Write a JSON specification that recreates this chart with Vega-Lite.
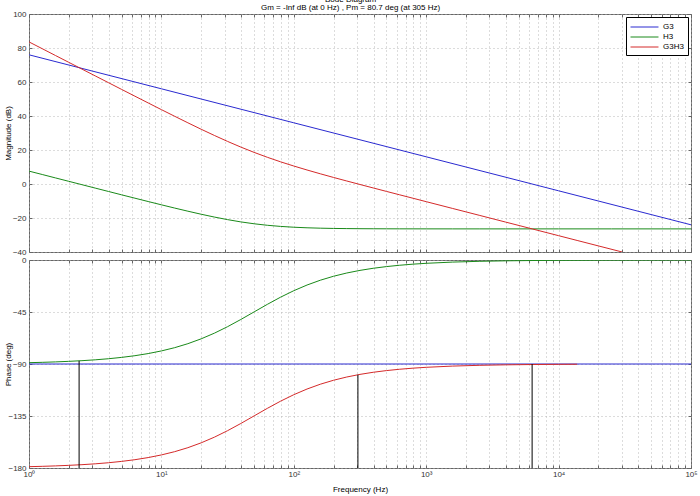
{
  "$schema": "https://vega.github.io/schema/vega-lite/v6.json",
  "background": "white",
  "padding": {"left": 3, "top": -5, "right": 8, "bottom": 0},
  "bounds": "flush",
  "title": {
    "text": ["Bode Diagram", "Gm = -Inf dB (at 0 Hz) ,  Pm = 80.7 deg (at 305 Hz)"],
    "font": "Liberation Sans", "fontSize": 8, "fontWeight": "normal", "lineHeight": 8,
    "offset": -2, "anchor": "middle", "color": "#000"
  },
  "spacing": 8,
  "config": {
    "view": {"stroke": "#666", "strokeWidth": 1},
    "axis": {
      "labelFont": "Liberation Sans", "labelFontSize": 8, "labelColor": "#333",
      "titleFont": "Liberation Sans", "titleFontSize": 8, "titleFontWeight": "normal", "titleColor": "#000",
      "gridColor": "#b0b0b0", "gridDash": [1, 3], "gridWidth": 0.9,
      "domain": false, "tickColor": "#666", "tickSize": -3, "labelPadding": 6
    },
    "legend": {
      "labelFont": "Liberation Sans", "labelFontSize": 8, "labelColor": "#000"
    }
  },
  "datasets": {
    "curves": [
      {"f": 1, "s": "G3", "m": 76, "p": -90},
      {"f": 10, "s": "G3", "m": 56, "p": -90},
      {"f": 100, "s": "G3", "m": 36, "p": -90},
      {"f": 1000, "s": "G3", "m": 16, "p": -90},
      {"f": 10000, "s": "G3", "m": -4, "p": -90},
      {"f": 100000, "s": "G3", "m": -24, "p": -90},

      {"f": 1, "s": "H3", "m": 7.58, "p": -88.85},
      {"f": 1.259, "s": "H3", "m": 5.58, "p": -88.56},
      {"f": 1.585, "s": "H3", "m": 3.58, "p": -88.18},
      {"f": 1.995, "s": "H3", "m": 1.59, "p": -87.71},
      {"f": 2.512, "s": "H3", "m": -0.41, "p": -87.12},
      {"f": 3.162, "s": "H3", "m": -2.40, "p": -86.38},
      {"f": 3.981, "s": "H3", "m": -4.39, "p": -85.45},
      {"f": 5.012, "s": "H3", "m": -6.38, "p": -84.28},
      {"f": 6.31, "s": "H3", "m": -8.35, "p": -82.81},
      {"f": 7.943, "s": "H3", "m": -10.31, "p": -80.97},
      {"f": 10, "s": "H3", "m": -12.25, "p": -78.69},
      {"f": 12.59, "s": "H3", "m": -14.15, "p": -75.87},
      {"f": 15.85, "s": "H3", "m": -16.00, "p": -72.41},
      {"f": 19.95, "s": "H3", "m": -17.78, "p": -68.24},
      {"f": 25.12, "s": "H3", "m": -19.44, "p": -63.33},
      {"f": 31.62, "s": "H3", "m": -20.96, "p": -57.69},
      {"f": 39.81, "s": "H3", "m": -22.29, "p": -51.47},
      {"f": 50.12, "s": "H3", "m": -23.40, "p": -44.93},
      {"f": 63.1, "s": "H3", "m": -24.28, "p": -38.39},
      {"f": 79.43, "s": "H3", "m": -24.95, "p": -32.18},
      {"f": 100, "s": "H3", "m": -25.43, "p": -26.57},
      {"f": 125.9, "s": "H3", "m": -25.76, "p": -21.66},
      {"f": 158.5, "s": "H3", "m": -25.99, "p": -17.51},
      {"f": 199.5, "s": "H3", "m": -26.14, "p": -14.07},
      {"f": 251.2, "s": "H3", "m": -26.23, "p": -11.26},
      {"f": 316.2, "s": "H3", "m": -26.29, "p": -8.98},
      {"f": 398.1, "s": "H3", "m": -26.33, "p": -7.16},
      {"f": 501.2, "s": "H3", "m": -26.36, "p": -5.70},
      {"f": 631, "s": "H3", "m": -26.37, "p": -4.53},
      {"f": 794.3, "s": "H3", "m": -26.38, "p": -3.60},
      {"f": 1000, "s": "H3", "m": -26.39, "p": -2.86},
      {"f": 1585, "s": "H3", "m": -26.40, "p": -1.81},
      {"f": 2512, "s": "H3", "m": -26.40, "p": -1.14},
      {"f": 3981, "s": "H3", "m": -26.40, "p": -0.72},
      {"f": 6310, "s": "H3", "m": -26.40, "p": -0.45},
      {"f": 10000, "s": "H3", "m": -26.40, "p": -0.29},
      {"f": 25119, "s": "H3", "m": -26.40, "p": -0.11},
      {"f": 100000, "s": "H3", "m": -26.40, "p": -0.03},

      {"f": 1, "s": "G3H3", "m": 83.58, "p": -178.85},
      {"f": 1.259, "s": "G3H3", "m": 79.58, "p": -178.56},
      {"f": 1.585, "s": "G3H3", "m": 75.58, "p": -178.18},
      {"f": 1.995, "s": "G3H3", "m": 71.59, "p": -177.71},
      {"f": 2.512, "s": "G3H3", "m": 67.59, "p": -177.12},
      {"f": 3.162, "s": "G3H3", "m": 63.60, "p": -176.38},
      {"f": 3.981, "s": "G3H3", "m": 59.61, "p": -175.45},
      {"f": 5.012, "s": "G3H3", "m": 55.62, "p": -174.28},
      {"f": 6.31, "s": "G3H3", "m": 51.65, "p": -172.81},
      {"f": 7.943, "s": "G3H3", "m": 47.69, "p": -170.97},
      {"f": 10, "s": "G3H3", "m": 43.75, "p": -168.69},
      {"f": 12.59, "s": "G3H3", "m": 39.85, "p": -165.87},
      {"f": 15.85, "s": "G3H3", "m": 36.00, "p": -162.41},
      {"f": 19.95, "s": "G3H3", "m": 32.22, "p": -158.24},
      {"f": 25.12, "s": "G3H3", "m": 28.56, "p": -153.33},
      {"f": 31.62, "s": "G3H3", "m": 25.04, "p": -147.69},
      {"f": 39.81, "s": "G3H3", "m": 21.71, "p": -141.47},
      {"f": 50.12, "s": "G3H3", "m": 18.60, "p": -134.93},
      {"f": 63.1, "s": "G3H3", "m": 15.72, "p": -128.39},
      {"f": 79.43, "s": "G3H3", "m": 13.05, "p": -122.18},
      {"f": 100, "s": "G3H3", "m": 10.57, "p": -116.57},
      {"f": 125.9, "s": "G3H3", "m": 8.24, "p": -111.66},
      {"f": 158.5, "s": "G3H3", "m": 6.01, "p": -107.51},
      {"f": 199.5, "s": "G3H3", "m": 3.86, "p": -104.07},
      {"f": 251.2, "s": "G3H3", "m": 1.77, "p": -101.26},
      {"f": 316.2, "s": "G3H3", "m": -0.29, "p": -98.98},
      {"f": 398.1, "s": "G3H3", "m": -2.33, "p": -97.16},
      {"f": 501.2, "s": "G3H3", "m": -4.36, "p": -95.70},
      {"f": 631, "s": "G3H3", "m": -6.37, "p": -94.53},
      {"f": 794.3, "s": "G3H3", "m": -8.38, "p": -93.60},
      {"f": 1000, "s": "G3H3", "m": -10.39, "p": -92.86},
      {"f": 1585, "s": "G3H3", "m": -14.40, "p": -91.81},
      {"f": 2512, "s": "G3H3", "m": -18.40, "p": -91.14},
      {"f": 3981, "s": "G3H3", "m": -22.40, "p": -90.72},
      {"f": 6310, "s": "G3H3", "m": -26.40, "p": -90.45},
      {"f": 10000, "s": "G3H3", "m": -30.40, "p": -90.29},
      {"f": 13800, "s": "G3H3", "m": -33.20, "p": -90.21},
      {"f": 30200, "s": "G3H3", "m": -40.0, "p": null}
    ],
    "margins": [
      {"f": 2.39, "top": -87.3, "bottom": -180},
      {"f": 305, "top": -99.3, "bottom": -180},
      {"f": 6310, "top": -90, "bottom": -180}
    ]
  },
  "vconcat": [
    {
      "width": 662,
      "height": 238,
      "resolve": {"axis": {"x": "independent", "y": "independent"}},
      "layer": [
        {
          "data": {"name": "curves"},
          "transform": [{"filter": "datum.m != null"}],
          "mark": {"type": "line", "strokeWidth": 1, "clip": true},
          "encoding": {
            "x": {
              "field": "f", "type": "quantitative",
              "scale": {"type": "log", "domain": [1, 100000], "nice": false},
              "axis": {
                "values": [1,2,3,4,5,6,7,8,9,10,20,30,40,50,60,70,80,90,100,200,300,400,500,600,700,800,900,1000,2000,3000,4000,5000,6000,7000,8000,9000,10000,20000,30000,40000,50000,60000,70000,80000,90000,100000],
                "labels": false, "title": null
              }
            },
            "y": {
              "field": "m", "type": "quantitative",
              "scale": {"domain": [-40, 100], "nice": false},
              "axis": {"values": [-40, -20, 0, 20, 40, 60, 80, 100], "title": "Magnitude (dB)", "titleX": -17, "labelPadding": 6}
            },
            "color": {
              "field": "s", "type": "nominal",
              "scale": {"domain": ["G3", "H3", "G3H3"], "range": ["#2a2ad0", "#1a8a1a", "#d42a2a"]},
              "legend": {
                "title": null, "orient": "top-right", "offset": 3,
                "strokeColor": "#000", "fillColor": "white", "padding": 4,
                "symbolType": "M-1,0H4.09", "symbolSize": 121, "symbolStrokeWidth": 1,
                "rowPadding": 0, "labelOffset": 21
              }
            }
          }
        },
        {
          "data": {"name": "curves"},
          "transform": [{"filter": "datum.m != null"}],
          "mark": {"type": "point", "opacity": 0},
          "encoding": {
            "x": {
              "field": "f", "type": "quantitative",
              "scale": {"type": "log", "domain": [1, 100000], "nice": false},
              "axis": {
                "orient": "top", "grid": false, "labels": false, "title": null,
                "values": [1,2,3,4,5,6,7,8,9,10,20,30,40,50,60,70,80,90,100,200,300,400,500,600,700,800,900,1000,2000,3000,4000,5000,6000,7000,8000,9000,10000,20000,30000,40000,50000,60000,70000,80000,90000,100000]
              }
            },
            "y": {
              "field": "m", "type": "quantitative",
              "scale": {"domain": [-40, 100], "nice": false},
              "axis": {"orient": "right", "grid": false, "labels": false, "title": null, "values": [-40, -20, 0, 20, 40, 60, 80, 100]}
            }
          }
        }
      ]
    },
    {
      "width": 662,
      "height": 208,
      "resolve": {"axis": {"x": "independent", "y": "independent"}},
      "layer": [
        {
          "data": {"name": "curves"},
          "transform": [{"filter": "datum.p != null"}],
          "mark": {"type": "line", "strokeWidth": 1, "clip": true},
          "encoding": {
            "x": {
              "field": "f", "type": "quantitative",
              "scale": {"type": "log", "domain": [1, 100000], "nice": false},
              "axis": {
                "values": [1,2,3,4,5,6,7,8,9,10,20,30,40,50,60,70,80,90,100,200,300,400,500,600,700,800,900,1000,2000,3000,4000,5000,6000,7000,8000,9000,10000,20000,30000,40000,50000,60000,70000,80000,90000,100000],
                "labelExpr": "datum.value == 1 ? '10⁰' : datum.value == 10 ? '10¹' : datum.value == 100 ? '10²' : datum.value == 1000 ? '10³' : datum.value == 10000 ? '10⁴' : datum.value == 100000 ? '10⁵' : ''",
                "title": "Frequency  (Hz)", "titlePadding": 7, "labelPadding": 5, "labelFlush": false
              }
            },
            "y": {
              "field": "p", "type": "quantitative",
              "scale": {"domain": [-180, 0], "nice": false},
              "axis": {"values": [-180, -135, -90, -45, 0], "title": "Phase (deg)", "titleX": -17, "labelPadding": 6}
            },
            "color": {"field": "s", "type": "nominal"}
          }
        },
        {
          "data": {"name": "margins"},
          "mark": {"type": "rule", "color": "#000", "strokeWidth": 1},
          "encoding": {
            "x": {
              "field": "f", "type": "quantitative",
              "scale": {"type": "log", "domain": [1, 100000], "nice": false},
              "axis": {
                "orient": "top", "grid": false, "labels": false, "title": null,
                "values": [1,2,3,4,5,6,7,8,9,10,20,30,40,50,60,70,80,90,100,200,300,400,500,600,700,800,900,1000,2000,3000,4000,5000,6000,7000,8000,9000,10000,20000,30000,40000,50000,60000,70000,80000,90000,100000]
              }
            },
            "y": {
              "field": "top", "type": "quantitative",
              "scale": {"domain": [-180, 0], "nice": false},
              "axis": {"orient": "right", "grid": false, "labels": false, "title": null, "values": [-180, -135, -90, -45, 0]}
            },
            "y2": {"field": "bottom"}
          }
        }
      ]
    }
  ]
}
